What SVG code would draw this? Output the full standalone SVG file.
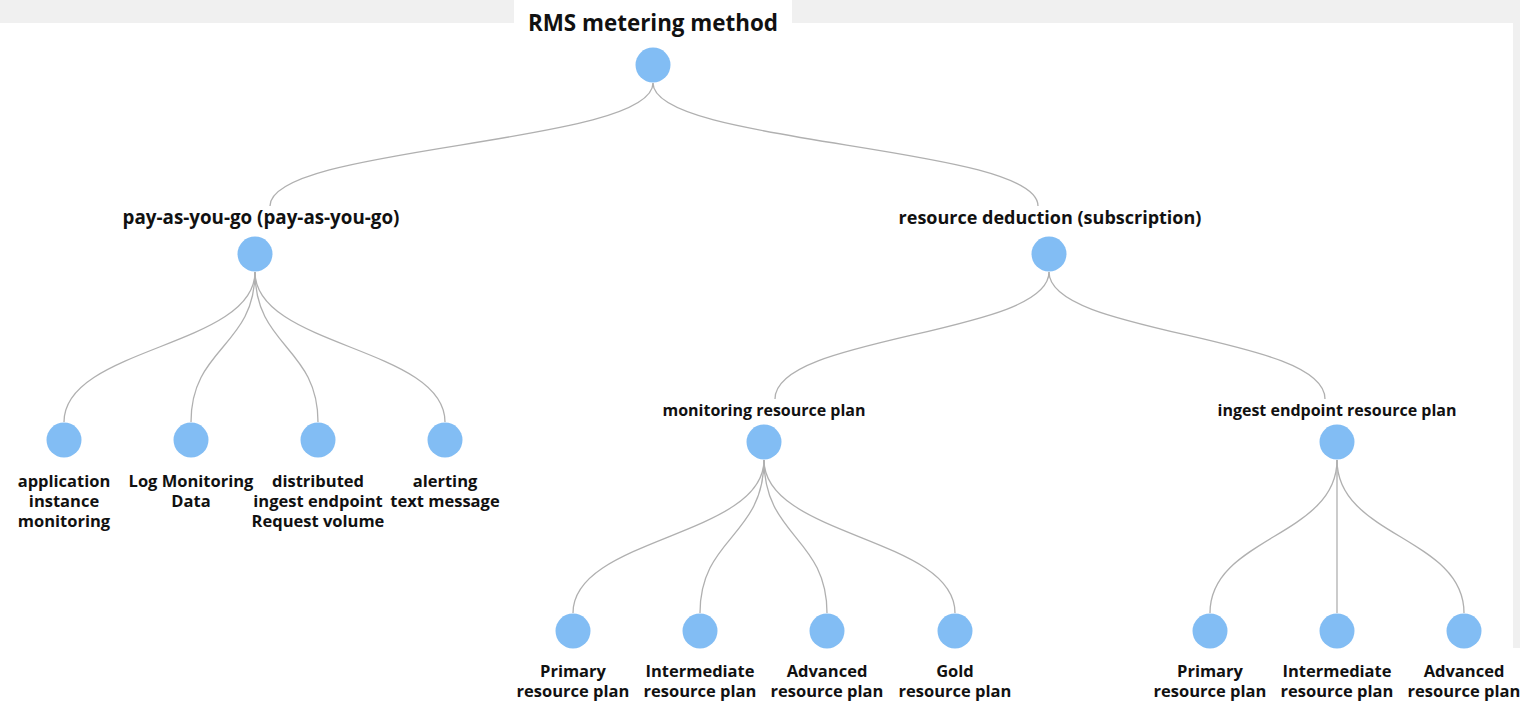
<svg xmlns="http://www.w3.org/2000/svg" width="1520" height="704" viewBox="0 0 1520 704">
  <style>
    .node circle { fill: #82bdf4; }
    .link { fill: none; stroke: #b0b0b0; stroke-width: 1.3; }
    text { font-family: "Open Sans", "Noto Sans", "DejaVu Sans", sans-serif; font-weight: 700; fill: #111; text-anchor: middle; }
    .t0 { font-size: 22.4px; }
    .t1 { font-size: 18px; }
    .t2 { font-size: 16.5px; }
    .t3 { font-size: 16px; }
  </style>
  <rect x="0" y="0" width="1520" height="704" fill="#ffffff"/>
  <rect x="0" y="0" width="1520" height="23" fill="#f0f0f0"/>
  <rect x="1513" y="0" width="7" height="648" fill="#f0f0f0"/>
  <rect x="514" y="0" width="278" height="30" fill="#ffffff"/>

  <g id="links">
    <path class="link" d="M653,83 C653,145 270,145 270,206"/>
    <path class="link" d="M653,83 C653,145 1038,145 1038,206"/>
    <path class="link" d="M255,272 C255,347 64,347 64,422"/>
    <path class="link" d="M255,272 C255,347 191,347 191,422"/>
    <path class="link" d="M255,272 C255,347 318,347 318,422"/>
    <path class="link" d="M255,272 C255,347 445,347 445,422"/>
    <path class="link" d="M1049,272 C1049,335 775,335 775,399"/>
    <path class="link" d="M1049,272 C1049,335 1325,335 1325,399"/>
    <path class="link" d="M764,460 C764,537 573,537 573,613"/>
    <path class="link" d="M764,460 C764,537 700,537 700,613"/>
    <path class="link" d="M764,460 C764,537 827,537 827,613"/>
    <path class="link" d="M764,460 C764,537 955,537 955,613"/>
    <path class="link" d="M1337,460 C1337,537 1210,537 1210,613"/>
    <path class="link" d="M1337,460 L1337,613"/>
    <path class="link" d="M1337,460 C1337,537 1464,537 1464,613"/>
  </g>

  <g id="root" class="node">
    <text class="t0" x="653" y="31">RMS metering method</text>
    <circle cx="653" cy="65" r="17.5"/>
  </g>
  <g id="payg" class="node">
    <text class="t1" x="261" y="224" style="font-size:18.8px">pay-as-you-go (pay-as-you-go)</text>
    <circle cx="255" cy="254" r="17.5"/>
  </g>
  <g id="subscription" class="node">
    <text class="t1" x="1050" y="224">resource deduction (subscription)</text>
    <circle cx="1049" cy="254" r="17.5"/>
  </g>
  <g id="app-monitoring" class="node">
    <circle cx="64" cy="440" r="17.5"/>
    <text class="t2" x="64" y="487">application</text>
    <text class="t2" x="64" y="507">instance</text>
    <text class="t2" x="64" y="527">monitoring</text>
  </g>
  <g id="log-monitoring" class="node">
    <circle cx="191" cy="440" r="17.5"/>
    <text class="t2" x="191" y="487">Log Monitoring</text>
    <text class="t2" x="191" y="507">Data</text>
  </g>
  <g id="ingest-requests" class="node">
    <circle cx="318" cy="440" r="17.5"/>
    <text class="t2" x="318" y="487">distributed</text>
    <text class="t2" x="318" y="507">ingest endpoint</text>
    <text class="t2" x="318" y="527">Request volume</text>
  </g>
  <g id="alerting-sms" class="node">
    <circle cx="445" cy="440" r="17.5"/>
    <text class="t2" x="445" y="487">alerting</text>
    <text class="t2" x="445" y="507">text message</text>
  </g>
  <g id="monitoring-plan" class="node">
    <text class="t3" x="764" y="416">monitoring resource plan</text>
    <circle cx="764" cy="442" r="17.5"/>
  </g>
  <g id="ingest-plan" class="node">
    <text class="t3" x="1337" y="416">ingest endpoint resource plan</text>
    <circle cx="1337" cy="442" r="17.5"/>
  </g>
  <g id="mon-primary" class="node">
    <circle cx="573" cy="631" r="17.5"/>
    <text class="t2" x="573" y="677">Primary</text>
    <text class="t2" x="573" y="697">resource plan</text>
  </g>
  <g id="mon-intermediate" class="node">
    <circle cx="700" cy="631" r="17.5"/>
    <text class="t2" x="700" y="677">Intermediate</text>
    <text class="t2" x="700" y="697">resource plan</text>
  </g>
  <g id="mon-advanced" class="node">
    <circle cx="827" cy="631" r="17.5"/>
    <text class="t2" x="827" y="677">Advanced</text>
    <text class="t2" x="827" y="697">resource plan</text>
  </g>
  <g id="mon-gold" class="node">
    <circle cx="955" cy="631" r="17.5"/>
    <text class="t2" x="955" y="677">Gold</text>
    <text class="t2" x="955" y="697">resource plan</text>
  </g>
  <g id="ing-primary" class="node">
    <circle cx="1210" cy="631" r="17.5"/>
    <text class="t2" x="1210" y="677">Primary</text>
    <text class="t2" x="1210" y="697">resource plan</text>
  </g>
  <g id="ing-intermediate" class="node">
    <circle cx="1337" cy="631" r="17.5"/>
    <text class="t2" x="1337" y="677">Intermediate</text>
    <text class="t2" x="1337" y="697">resource plan</text>
  </g>
  <g id="ing-advanced" class="node">
    <circle cx="1464" cy="631" r="17.5"/>
    <text class="t2" x="1464" y="677">Advanced</text>
    <text class="t2" x="1464" y="697">resource plan</text>
  </g>
</svg>
